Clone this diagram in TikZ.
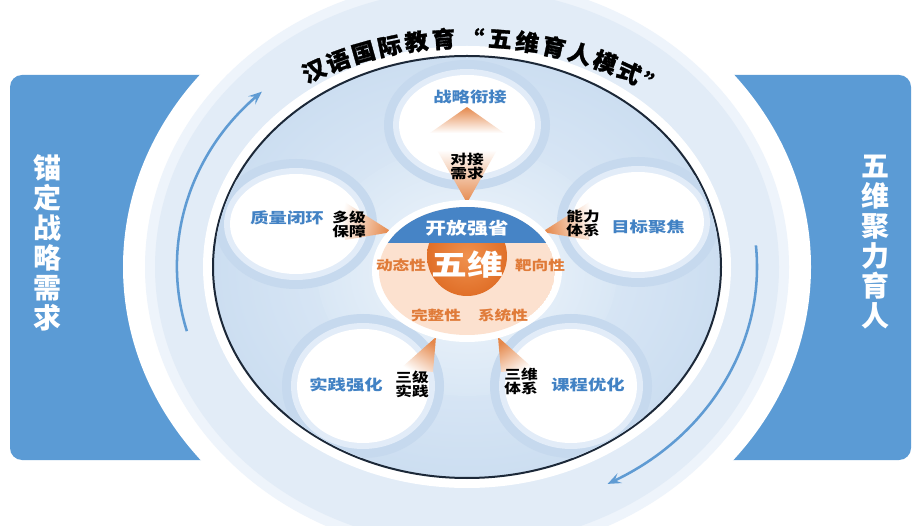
\documentclass[tikz,border=0pt]{standalone}
\usepackage{fontspec}
\setmainfont{Noto Sans CJK SC}
\newfontfamily\cjkw[FakeStretch=1.25]{Noto Sans CJK SC}
\newfontfamily\cjkt[FakeStretch=1.04, BoldFeatures={FakeBold=1.2}]{Noto Sans CJK SC}
\usetikzlibrary{arrows.meta,calc}
\definecolor{panelblue}{HTML}{5B9BD5}
\definecolor{ringblue}{HTML}{E2ECF7}
\definecolor{ringsoft}{HTML}{EEF4FB}
\definecolor{halo}{HTML}{C6D9EE}
\definecolor{haloin}{HTML}{E2ECF8}
\definecolor{labelblue}{HTML}{4282C4}
\definecolor{capblue}{HTML}{4684C6}
\definecolor{peach}{HTML}{FCE1CF}
\definecolor{orangeT}{HTML}{E07B39}
\definecolor{orangeA}{HTML}{E5884B}
\definecolor{navy}{HTML}{1C2838}
\definecolor{arrowblue}{HTML}{5F9BD3}
\definecolor{discin}{HTML}{E6EFF9}
\definecolor{discout}{HTML}{CCDEF1}
\definecolor{palein}{HTML}{F2F7FC}
\definecolor{paleout}{HTML}{D9E7F5}
\definecolor{orin}{HTML}{F0914E}
\definecolor{orout}{HTML}{E06F28}
\newcommand\mypetal[3]{%
  \fill[halo] (#1) ellipse [x radius=#2+15, y radius=#3+15];
  \fill[haloin] (#1) ellipse [x radius=#2+6, y radius=#3+6];
  \fill[white] (#1) ellipse [x radius=#2, y radius=#3];
}
\begin{document}
\begin{tikzpicture}[x=0.75pt,y=0.75pt,
  titlech/.style={font=\cjkt\bfseries\fontsize{17}{18}\selectfont, text=black, inner sep=0pt},
  petallabel/.style={font=\cjkw\bfseries\fontsize{11}{12}\selectfont, text=labelblue, inner sep=0pt},
  duallabel/.style={font=\cjkw\bfseries\fontsize{10}{10.5}\selectfont, text=black, align=center, inner sep=0pt},
  proplabel/.style={font=\cjkw\bfseries\fontsize{10}{11}\selectfont, text=orangeT, inner sep=0pt},
  sidetext/.style={font=\bfseries\fontsize{21}{22.5}\selectfont, text=white, align=center, inner sep=0pt},
  arr/.style={arrowblue, line width=1.9pt, -{Stealth[length=10pt,width=8pt,inset=4pt]}},
  tri/.style={top color=orangeA, bottom color=white}
]
\useasboundingbox (0,0) rectangle (917,525);
\fill[white] (0,0) rectangle (917,525);
\coordinate (c) at (467,258);
\coordinate (cc) at (467,254);
% side panels
\fill[panelblue, rounded corners=9pt] (10,65) rectangle (470,450);
\fill[panelblue, rounded corners=9pt] (464,65) rectangle (911,450);
% outer rings
\fill[white] (c) ellipse [x radius=344, y radius=305];
\fill[ringsoft] (c) ellipse [x radius=322, y radius=288];
\fill[ringblue] (c) ellipse [x radius=312, y radius=278];
% cycle arrows
\draw[arr] (c) ++(195:290 and 248) arc[start angle=195, end angle=135, x radius=290, y radius=248];
\draw[arr] (c) ++(5:290 and 248) arc[start angle=5, end angle=-61, x radius=290, y radius=248];
% white band and main disc
\fill[white] (c) ellipse [x radius=264, y radius=221];
\shadedraw[inner color=discin, outer color=discout, draw=navy, line width=1.5pt] (c) ellipse [x radius=254, y radius=211];
% title along the arc
\foreach \ch/\t [count=\i] in {汉/121.0,语/115.8,国/110.6,际/105.4,教/100.2,育/95.0,“/89.5,五/84.3,维/79.1,育/73.9,人/68.7,模/63.5,式/58.3,”/53.0}{
  \node[titlech, rotate={atan2(-229*cos(\t),303*sin(\t))}] (tt\i) at ($(470,258)+(\t:303 and 229)$) {\ch};
}
% petals
\begin{scope}
\clip (c) ellipse [x radius=253, y radius=210];
\shade[inner color=palein, outer color=paleout] (cc) ellipse [x radius=150, y radius=125];
\mypetal{467,400}{68}{50}
\mypetal{296,301}{66}{50}
\mypetal{638,303}{66}{50}
\mypetal{363,139}{66}{57}
\mypetal{571,139}{66}{57}
\end{scope}
% orange pointer triangles
\shade[tri, shading angle=0] (467,418) -- (430,392) -- (504,392) -- cycle;
\shade[tri, shading angle=180] (467,322) -- (437,375) -- (497,375) -- cycle;
\shade[tri, shading angle=-104] (392,293) -- (340,326) -- (345,285) -- cycle;
\shade[tri, shading angle=104] (542,293) -- (594,326) -- (589,285) -- cycle;
\shade[tri, shading angle=-31.5] (436,188) -- (400,156) -- (433,153) -- cycle;
\shade[tri, shading angle=31.5] (498,188) -- (534,156) -- (501,153) -- cycle;
% centre
\fill[white] (cc) ellipse [x radius=95, y radius=71];
\begin{scope}
\clip (cc) ellipse [x radius=88, y radius=64];
\fill[peach] (cc) ellipse [x radius=88, y radius=64];
\shade[inner color=orin, outer color=orout] (467,269) circle (40);
\fill[capblue] (375,282) rectangle (560,330);
\end{scope}
\node[font=\cjkw\bfseries\fontsize{12.5}{13}\selectfont, text=white, inner sep=0pt] (cap) at (467,297) {开放强省};
\node[font=\cjkw\bfseries\fontsize{21.5}{22}\selectfont, text=white, inner sep=0pt] (core) at (467,260) {五维};
\node[proplabel] (p1) at (401,260) {动态性};
\node[proplabel] (p2) at (540,260) {靶向性};
\node[proplabel] (p3) at (436,210) {完整性};
\node[proplabel] (p4) at (503,210) {系统性};
% petal labels
\node[petallabel] (l1) at (470,428) {战略衔接};
\node[petallabel] (l2) at (287,307) {质量闭环};
\node[petallabel] (l3) at (648,298) {目标聚焦};
\node[petallabel] (l4) at (346,140) {实践强化};
\node[petallabel] (l5) at (588,140) {课程优化};
% link labels
\node[duallabel] (d1) at (467,359) {对接\\需求};
\node[duallabel] (d2) at (349,301) {多级\\保障};
\node[duallabel] (d3) at (583,302) {能力\\体系};
\node[duallabel] (d4) at (412,141) {三级\\实践};
\node[duallabel] (d5) at (521,144) {三维\\体系};
% side texts
\node[sidetext] (sl) at (47,282) {锚\\定\\战\\略\\需\\求};
\node[sidetext] (sr) at (875,283) {五\\维\\聚\\力\\育\\人};
\end{tikzpicture}
\end{document}
